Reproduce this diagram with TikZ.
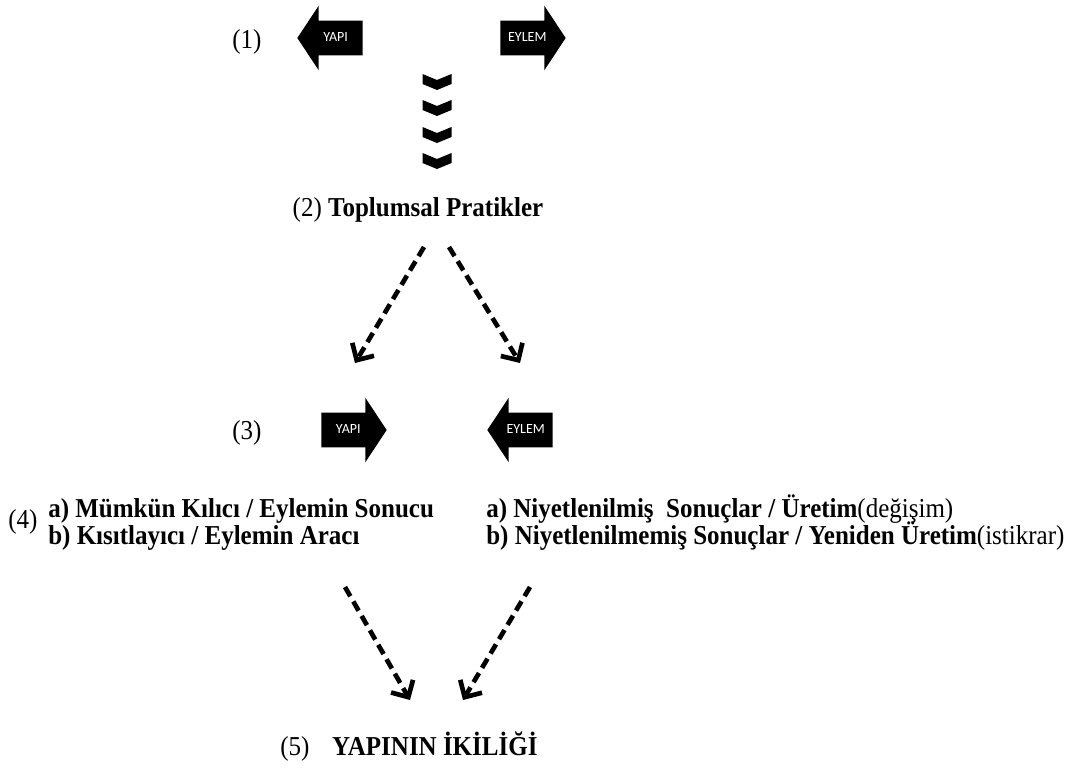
\documentclass[tikz,border=0pt]{standalone}
\usepackage{fontspec}
\setmainfont{Liberation Serif}[BoldFont={Liberation Serif Bold}, FakeStretch=0.915]
\newfontfamily\okfont{Carlito}
\usepackage{tikz}
\usetikzlibrary{shapes.arrows, arrows.meta, positioning}

\begin{document}
\begin{tikzpicture}[x=0.75pt, y=-0.75pt,
    font=\fontsize{20.5}{21}\selectfont,
    yazi/.style={inner sep=0pt, anchor=base west},
    blok/.style={single arrow, fill=black, text=white, font=\okfont\fontsize{10.5}{12}\selectfont,
      text width=40pt, align=center, inner xsep=0pt, inner ysep=8.25pt, text height=7pt, text depth=2pt,
      single arrow head extend=11.25pt, single arrow tip angle=113, anchor=tip},
    okucu/.style={fill=black},
    kesik/.style={line width=3.5pt, dash pattern=on 8pt off 4.5pt, -{Straight Barb[length=9.5pt,width=19pt]}}]
  \useasboundingbox (0,0) rectangle (1075,776);
  \node (bir) [yazi] at (232,48) {(1)};%row 1
  \node (yapi1) [blok, shape border rotate=180] at (297,38) {YAPI};
  \node (eylem1) [blok] at (566,38) {EYLEM};
  \foreach \y in {82,108,135,161}
    \fill[okucu] (422.5,\y-8) -- (437,\y-2) -- (451.5,\y-8) -- (451.5,\y+2)
      -- (437,\y+8) -- (422.5,\y+2) -- cycle;%chevrons
  \node (prat) [inner sep=0pt, anchor=base] at (418,216) {(2) \textbf{Toplumsal Pratikler}};
  \coordinate (k1) at (424,247);
  \coordinate (k2) at (449,247);
  \coordinate (k3) at (355,363);
  \coordinate (k4) at (520,363);
  \draw[kesik] (k1) -- (k3);
  \draw[kesik] (k2) -- (k4);
  \node (uc) [yazi] at (232,439) {(3)};%row 3
  \node (yapi3) [blok] at (387,430) {YAPI};
  \node (eylem3) [blok, shape border rotate=180] at (487,430) {EYLEM};
  \node (dort) [yazi] at (8,528) {(4)};%row 4
  \node (solA) [yazi] at (48,517) {\textbf{a) Mümkün Kılıcı / Eylemin Sonucu}};
  \node (solB) [yazi] at (48,544) {\textbf{b) Kısıtlayıcı / Eylemin Aracı}};
  \node (sagA) [yazi] at (486,517) {\textbf{a) Niyetlenilmiş\ \ Sonuçlar / Üretim}(değişim)};
  \node (sagB) [yazi] at (486,544) {\textbf{b) Niyetlenilmemiş Sonuçlar / Yeniden Üretim}(istikrar)};
  \coordinate (k5) at (345,587);
  \coordinate (k6) at (530,587);
  \coordinate (k7) at (410,700);
  \coordinate (k8) at (463,700);
  \draw[kesik] (k5) -- (k7);
  \draw[kesik] (k6) -- (k8);
  \node (bes) [yazi] at (280,755) {(5)\hspace{17pt}\textbf{YAPININ İKİLİĞİ}};%row 5
\end{tikzpicture}
\end{document}
